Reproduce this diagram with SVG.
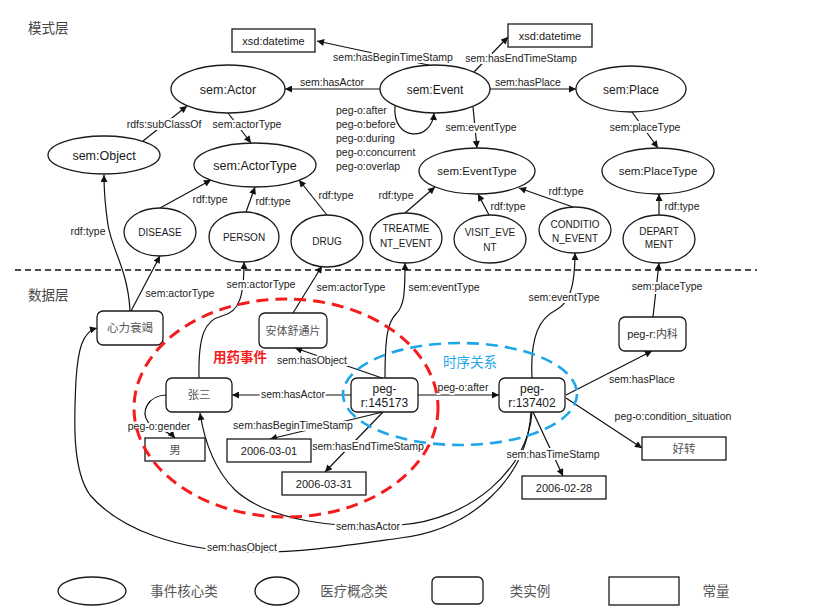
<svg xmlns="http://www.w3.org/2000/svg" width="814" height="610" viewBox="0 0 814 610">
<defs>
<marker id="arr" viewBox="0 0 10 10" refX="10" refY="5" markerWidth="8" markerHeight="7" orient="auto" markerUnits="userSpaceOnUse"><path d="M0,0 L10,5 L0,10 z" fill="#111"/></marker>
<style>
.bg{fill:#fff}
.e{fill:#fff;stroke:#1a1a1a;stroke-width:1.3}
.r{fill:#fff;stroke:#1a1a1a;stroke-width:1.3}
.c{fill:none;stroke:#111;stroke-width:1.2}
.a{marker-end:url(#arr)}
.t{font-family:"Liberation Sans",Arial,sans-serif;fill:#1a1a1a;text-anchor:middle}
.zh{font-family:"Noto Sans CJK SC","Liberation Sans",sans-serif;fill:#555;text-anchor:middle}
.lb{font-family:"Liberation Sans",Arial,sans-serif;font-size:10.5px;fill:#222;text-anchor:middle;paint-order:stroke;stroke:#fff;stroke-width:4px;stroke-linejoin:round}
.lbs{font-family:"Liberation Sans",Arial,sans-serif;font-size:10.5px;fill:#222;text-anchor:start}
.t13{font-size:12.5px}
.t12{font-size:12px}
.t11{font-size:11.5px}
.t10{font-size:10px}
.tv{font-size:11px}
</style>
</defs>
<rect class="bg" x="0" y="0" width="814" height="610"/>

<text x="28" y="33" font-family="Noto Sans CJK SC,sans-serif" font-size="13.5" fill="#444">模式层</text>
<text x="28" y="300" font-family="Noto Sans CJK SC,sans-serif" font-size="13.5" fill="#444">数据层</text>
<path d="M15,270 L757,270" stroke="#111" stroke-width="1.5" stroke-dasharray="6 4" fill="none"/>

<g id="connectors">
<path class="c a" d="M433,66 L317,41"/>
<path class="c a" d="M474,72 L508,37"/>
<path class="c a" d="M380,89 L285,89"/>
<path class="c a" d="M490,89 L576,89"/>
<path class="c a" d="M395,106 C392,142 432,142 434,113"/>
<path class="c a" d="M473,107 L477,148"/>
<path class="c a" d="M632,112 L658,148"/>
<path class="c a" d="M228,113 L251,143"/>
<path class="c a" d="M143,141 L187,106"/>
<path class="c a" d="M160,208 L211,180"/>
<path class="c a" d="M246,212 L255,187"/>
<path class="c a" d="M327,215 L299,180"/>
<path class="c a" d="M405,213 L435,187"/>
<path class="c a" d="M489,215 L478,194"/>
<path class="c a" d="M573,207 L519,188"/>
<path class="c a" d="M659,215 L659,194"/>

<path class="c a" d="M130,311 C128,270 112,250 108,225 C105,205 104,195 104,175"/>
<path class="c a" d="M131,311 L160,256"/>
<path class="c a" d="M199,378 C198,335 205,320 222,316 C240,312 244,295 244,262"/>
<path class="c a" d="M293,313 L322,266"/>
<path class="c a" d="M385,378 C385,335 388,322 396,314 C404,306 405,295 405,263"/>
<path class="c a" d="M532,378 C530,335 540,318 556,310 C570,303 575,285 575,253"/>
<path class="c a" d="M653,317 L659,263"/>
<path class="c a" d="M566,395 L652,351"/>
<path class="c a" d="M566,398 L642,448"/>
<path class="c a" d="M533,412 L563,476"/>
<path class="c a" d="M418,395 L499,395"/>
<path class="c a" d="M351,395 L232,395"/>
<path class="c a" d="M382,378 L295,348"/>
<path class="c a" d="M383,412 L270,439"/>
<path class="c a" d="M383,412 L325,472"/>
<path class="c a" d="M532,412 C528,470 470,520 400,525 C340,529 270,522 235,490 C215,470 205,445 200,413"/>
<path class="c a" d="M531,412 C527,480 470,530 400,538 C350,545 300,553 250,552 C180,551 120,530 90,495 C72,470 74,420 76,380 C78,350 82,332 97,328"/>
<path class="c a" d="M166,395 C147,396 141,412 148,422 C155,430 168,430 175,438"/>

<text class="lb" x="393" y="61">sem:hasBeginTimeStamp</text>
<text class="lb" x="521" y="62">sem:hasEndTimeStamp</text>
<text class="lb" x="332" y="86">sem:hasActor</text>
<text class="lb" x="528" y="86">sem:hasPlace</text>
<text class="lbs" x="336" y="114">peg-o:after</text>
<text class="lbs" x="336" y="128">peg-o:before</text>
<text class="lbs" x="336" y="142">peg-o:during</text>
<text class="lbs" x="336" y="156">peg-o:concurrent</text>
<text class="lbs" x="336" y="170">peg-o:overlap</text>
<text class="lb" x="481" y="131">sem:eventType</text>
<text class="lb" x="645" y="131">sem:placeType</text>
<text class="lb" x="247" y="128">sem:actorType</text>
<text class="lb" x="164" y="128">rdfs:subClassOf</text>
<text class="lb" x="210" y="203">rdf:type</text>
<text class="lb" x="273" y="205">rdf:type</text>
<text class="lb" x="336" y="199">rdf:type</text>
<text class="lb" x="396" y="199">rdf:type</text>
<text class="lb" x="508" y="210">rdf:type</text>
<text class="lb" x="566" y="195">rdf:type</text>
<text class="lb" x="682" y="210">rdf:type</text>
<text class="lb" x="88" y="235">rdf:type</text>

<text class="lb" x="180" y="297">sem:actorType</text>
<text class="lb" x="261" y="288">sem:actorType</text>
<text class="lb" x="351" y="291">sem:actorType</text>
<text class="lb" x="444" y="291">sem:eventType</text>
<text class="lb" x="564" y="301">sem:eventType</text>
<text class="lb" x="667" y="290">sem:placeType</text>
<text class="lb" x="312" y="364">sem:hasObject</text>
<text class="lb" x="293" y="398">sem:hasActor</text>
<text class="lb" x="463" y="391">peg-o:after</text>
<text class="lb" x="642" y="383">sem:hasPlace</text>
<text class="lb" x="673" y="420">peg-o:condition_situation</text>
<text class="lb" x="553" y="458">sem:hasTimeStamp</text>
<text class="lb" x="293" y="429">sem:hasBeginTimeStamp</text>
<text class="lb" x="368" y="450">sem:hasEndTimeStamp</text>
<text class="lb" x="159" y="430">peg-o:gender</text>
<text class="lb" x="368" y="530">sem:hasActor</text>
<text class="lb" x="242" y="551">sem:hasObject</text>
</g>

<g id="xsd-datetime-1"><rect class="r" x="232" y="29" width="83" height="23"/><text class="t tv" x="273.5" y="44.5">xsd:datetime</text></g>
<g id="xsd-datetime-2"><rect class="r" x="508" y="24" width="84" height="23"/><text class="t tv" x="550" y="39.5">xsd:datetime</text></g>
<g id="sem-actor"><ellipse class="e" cx="228" cy="89" rx="57" ry="24"/><text class="t t13" x="228" y="93.5">sem:Actor</text></g>
<g id="sem-event"><ellipse class="e" cx="435" cy="89" rx="55" ry="24"/><text class="t t12" x="435" y="93.5">sem:Event</text></g>
<g id="sem-place"><ellipse class="e" cx="631" cy="89" rx="55" ry="23"/><text class="t t12" x="631" y="93.5">sem:Place</text></g>
<g id="sem-object"><ellipse class="e" cx="104" cy="155" rx="56" ry="19"/><text class="t t13" x="104" y="159.5">sem:Object</text></g>
<g id="sem-actortype"><ellipse class="e" cx="255" cy="165" rx="61" ry="22"/><text class="t t13" x="255" y="169.5">sem:ActorType</text></g>
<g id="sem-eventtype"><ellipse class="e" cx="477" cy="171" rx="58" ry="23"/><text class="t t11" x="477" y="175">sem:EventType</text></g>
<g id="sem-placetype"><ellipse class="e" cx="658" cy="171" rx="56" ry="23"/><text class="t t11" x="658" y="175">sem:PlaceType</text></g>
<g id="disease"><ellipse class="e" cx="160" cy="232" rx="36" ry="24"/><text class="t t10" x="160" y="235.5">DISEASE</text></g>
<g id="person"><ellipse class="e" cx="244" cy="237" rx="35" ry="25"/><text class="t t10" x="244" y="240.5">PERSON</text></g>
<g id="drug"><ellipse class="e" cx="327" cy="241" rx="36" ry="26"/><text class="t t10" x="327" y="244.5">DRUG</text></g>
<g id="treatment-event"><ellipse class="e" cx="406" cy="238" rx="36" ry="25"/><text class="t t10" x="406" y="232">TREATME</text><text class="t t10" x="406" y="247">NT_EVENT</text></g>
<g id="visit-event"><ellipse class="e" cx="490" cy="239" rx="36" ry="24"/><text class="t t10" x="490" y="235.5">VISIT_EVE</text><text class="t t10" x="490" y="250.5">NT</text></g>
<g id="condition-event"><ellipse class="e" cx="575" cy="230" rx="36" ry="23"/><text class="t t10" x="575" y="227.5">CONDITIO</text><text class="t t10" x="575" y="241.5">N_EVENT</text></g>
<g id="department"><ellipse class="e" cx="659" cy="239" rx="36" ry="24"/><text class="t t10" x="659" y="234.5">DEPART</text><text class="t t10" x="659" y="248">MENT</text></g>

<g id="xinli"><rect class="r" x="97" y="311" width="66" height="34" rx="6"/><text class="zh" font-size="11.5" x="130" y="332">心力衰竭</text></g>
<g id="anti"><rect class="r" x="259" y="313" width="68" height="35" rx="6"/><text class="zh" font-size="11" x="293" y="334.5">安体舒通片</text></g>
<g id="zhangsan"><rect class="r" x="166" y="378" width="66" height="34" rx="6"/><text class="zh" font-size="11.5" x="199" y="399">张三</text></g>
<g id="peg-r-145173"><rect class="r" x="351" y="378" width="67" height="34" rx="6"/><text class="t t12" x="384.5" y="393">peg-</text><text class="t t12" x="384.5" y="407">r:145173</text></g>
<g id="peg-r-137402"><rect class="r" x="499" y="378" width="66" height="34" rx="6"/><text class="t t12" x="532" y="393">peg-</text><text class="t t12" x="532" y="407">r:137402</text></g>
<g id="neike"><rect class="r" x="619" y="317" width="67" height="34" rx="6"/><text class="t tv" x="652.5" y="338">peg-r:<tspan font-family="Noto Sans CJK SC,sans-serif" fill="#444">内科</tspan></text></g>
<g id="nan"><rect class="r" x="145" y="438" width="60" height="23"/><text class="zh" font-size="11.5" x="175" y="453.5">男</text></g>
<g id="d20060301"><rect class="r" x="227" y="439" width="84" height="23"/><text class="t tv" x="269" y="454.5">2006-03-01</text></g>
<g id="d20060331"><rect class="r" x="282" y="472" width="84" height="23"/><text class="t tv" x="324" y="487.5">2006-03-31</text></g>
<g id="d20060228"><rect class="r" x="522" y="476" width="84" height="23"/><text class="t tv" x="564" y="491.5">2006-02-28</text></g>
<g id="haozhuan"><rect class="r" x="642" y="437" width="84" height="23"/><text class="zh" font-size="11.5" x="684" y="452.5">好转</text></g>

<g id="region-medication">
<ellipse cx="286" cy="408" rx="152" ry="109" fill="none" stroke="#f41c1c" stroke-width="3" stroke-dasharray="12 7"/>
<text x="240" y="362" font-family="Noto Sans CJK SC,sans-serif" font-size="13.5" font-weight="bold" fill="#f41c1c" text-anchor="middle">用药事件</text>
</g>
<g id="region-temporal">
<ellipse cx="460" cy="394" rx="117" ry="51" fill="none" stroke="#1ea7e8" stroke-width="2.6" stroke-dasharray="12 7"/>
<text x="470" y="367" font-family="Noto Sans CJK SC,sans-serif" font-size="13.5" fill="#1ea7e8" text-anchor="middle">时序关系</text>
</g>

<g id="legend">
<ellipse class="e" cx="92" cy="591" rx="34" ry="14" stroke="#333"/>
<text class="zh" font-size="13.5" x="184" y="596">事件核心类</text>
<ellipse class="e" cx="277" cy="591" rx="22" ry="14" stroke="#333"/>
<text class="zh" font-size="13.5" x="354" y="596">医疗概念类</text>
<rect class="r" x="432" y="577" width="51" height="27" rx="5" stroke="#333"/>
<text class="zh" font-size="13.5" x="530" y="596">类实例</text>
<rect class="r" x="609" y="577" width="70" height="28" stroke="#333"/>
<text class="zh" font-size="13.5" x="716" y="596">常量</text>
</g>
</svg>
